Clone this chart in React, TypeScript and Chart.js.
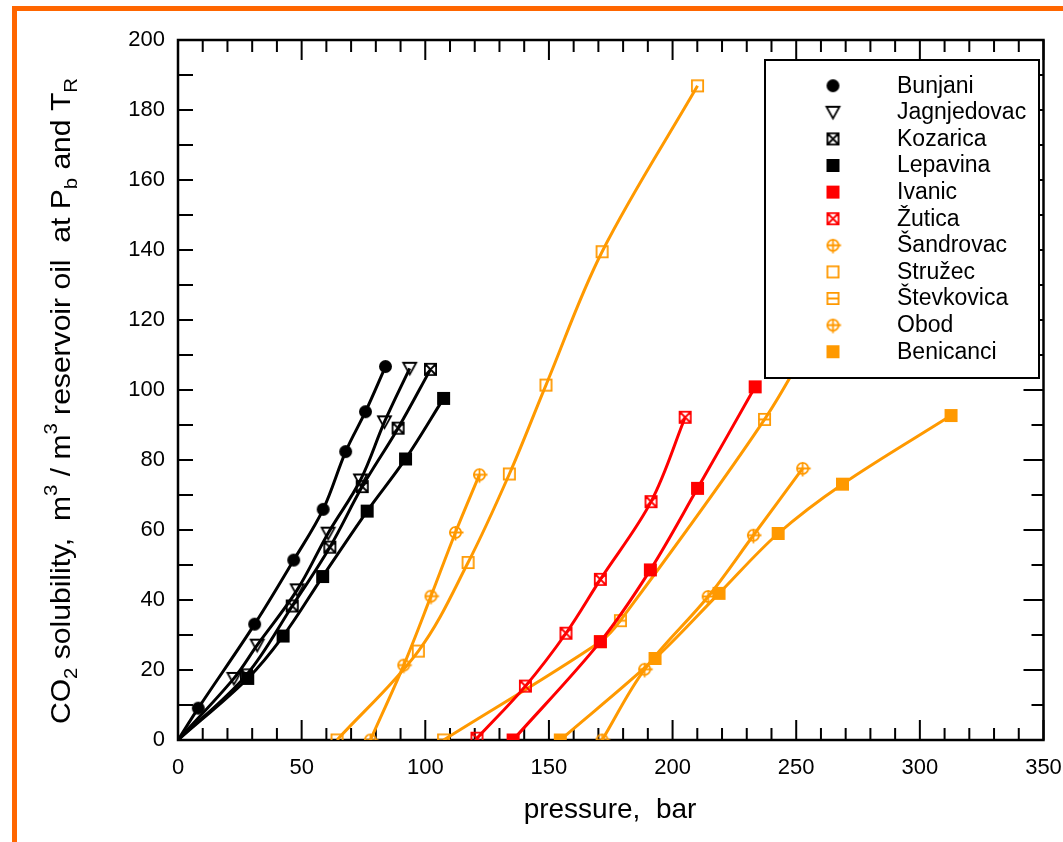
import React, { useEffect, useRef } from 'react';
import { Chart, registerables } from 'chart.js';

Chart.register(...registerables);

const FONT = "'Liberation Sans', Arial, Helvetica, sans-serif";
const BLACK = '#000000';
const RED = '#FF0000';
const ORANGE = '#FF9900';

// ---- data (pressure in bar, CO2 solubility in m3/m3) ----
const seriesNames = ['Bunjani', 'Jagnjedovac', 'Kozarica', 'Lepavina', 'Ivanic', 'Žutica', 'Šandrovac', 'Stružec', 'Števkovica', 'Obod', 'Benicanci'];

const bunjaniX = [0, 8.2, 31.0, 46.8, 58.7, 67.8, 75.8, 83.9];
const bunjaniY = [0, 9.1, 33.1, 51.4, 65.9, 82.4, 93.8, 106.7];
const jagnjedovacX = [0, 22.6, 32.0, 48.2, 60.7, 73.8, 83.5, 93.7];
const jagnjedovacY = [0, 17.6, 27.1, 42.9, 59.1, 74.3, 90.9, 106.2];
const kozaricaX = [0, 27.7, 46.2, 61.4, 74.5, 89.0, 102.1];
const kozaricaY = [0, 18.6, 38.3, 55.1, 72.4, 89.1, 105.9];
const lepavinaX = [0, 28.2, 42.5, 58.5, 76.5, 92.0, 107.4];
const lepavinaY = [0, 17.6, 29.7, 46.7, 65.4, 80.3, 97.6];
const ivanicX = [135.5, 170.8, 191.0, 210.1, 233.4];
const ivanicY = [0, 28.1, 48.6, 71.9, 100.9];
const zuticaX = [120.9, 140.5, 156.9, 170.8, 191.3, 205.1];
const zuticaY = [0.5, 15.4, 30.5, 45.9, 68.1, 92.2];
const sandrovacX = [77.8, 91.3, 102.3, 112.2, 121.9];
const sandrovacY = [0, 21.4, 41.1, 59.3, 75.8];
const struzecX = [64.3, 97.2, 117.3, 134.0, 148.8, 171.5, 210.1];
const struzecY = [0, 25.4, 50.7, 76.0, 101.4, 139.5, 186.9];
const stevkovicaX = [107.4, 170.8, 178.9, 237.2, 262.0];
const stevkovicaY = [0, 28.1, 34.1, 91.6, 122.0];
const obodX = [171.5, 188.7, 214.4, 232.7, 252.6];
const obodY = [0, 20.2, 41.0, 58.5, 77.6];
const benicanciX = [154.6, 192.9, 218.8, 242.7, 268.7, 312.6];
const benicanciY = [0, 23.3, 41.9, 59.0, 73.1, 92.7];

const xTickValues = [0, 50, 100, 150, 200, 250, 300, 350];
const yTickValues = [0, 20, 40, 60, 80, 100, 120, 140, 160, 180, 200];

// ---- marker images ----
type MarkerKind = 'circleFilled' | 'triDown' | 'boxX' | 'squareFilled' | 'circlePlus' | 'squareOpen' | 'squareHLine';

function makeMarker(kind: MarkerKind, color: string): HTMLCanvasElement {
  const size = 13;
  const pad = 4;
  const S = size + pad * 2;
  const c = document.createElement('canvas');
  c.width = S;
  c.height = S;
  const ctx = c.getContext('2d') as CanvasRenderingContext2D;
  const cx = S / 2;
  const cy = S / 2;
  const h = size / 2;
  ctx.strokeStyle = color;
  ctx.fillStyle = color;
  ctx.lineWidth = 1.8;
  ctx.beginPath();
  switch (kind) {
    case 'circleFilled':
      ctx.arc(cx, cy, h, 0, Math.PI * 2);
      ctx.fill();
      break;
    case 'triDown':
      ctx.moveTo(cx - h, cy - h * 0.85);
      ctx.lineTo(cx + h, cy - h * 0.85);
      ctx.lineTo(cx, cy + h * 0.95);
      ctx.closePath();
      ctx.stroke();
      break;
    case 'boxX':
      ctx.rect(cx - h + 0.9, cy - h + 0.9, size - 1.8, size - 1.8);
      ctx.moveTo(cx - h + 1, cy - h + 1);
      ctx.lineTo(cx + h - 1, cy + h - 1);
      ctx.moveTo(cx + h - 1, cy - h + 1);
      ctx.lineTo(cx - h + 1, cy + h - 1);
      ctx.stroke();
      break;
    case 'squareFilled':
      ctx.fillRect(cx - h, cy - h, size, size);
      break;
    case 'circlePlus':
      ctx.arc(cx, cy, h - 0.9, 0, Math.PI * 2);
      ctx.moveTo(cx - h, cy);
      ctx.lineTo(cx + h + 1.5, cy);
      ctx.moveTo(cx, cy - h);
      ctx.lineTo(cx, cy + h + 1.5);
      ctx.stroke();
      break;
    case 'squareOpen':
      ctx.rect(cx - h + 0.9, cy - h + 0.9, size - 1.8, size - 1.8);
      ctx.stroke();
      break;
    case 'squareHLine':
      ctx.rect(cx - h + 0.9, cy - h + 0.9, size - 1.8, size - 1.8);
      ctx.moveTo(cx - h + 1, cy);
      ctx.lineTo(cx + h - 1, cy);
      ctx.stroke();
      break;
  }
  return c;
}

// ---- plugins ----
const framePlugin = {
  id: 'frameTicks',
  beforeDatasetsDraw(chart: any) {
    const { ctx, chartArea } = chart;
    const { left, right, top, bottom } = chartArea;
    const xs = chart.scales.x;
    const ys = chart.scales.y;
    ctx.save();
    ctx.strokeStyle = BLACK;
    ctx.lineWidth = 2;
    ctx.beginPath();
    for (let v = 0; v <= 350; v += 10) {
      const px = xs.getPixelForValue(v);
      const len = v % 50 === 0 ? 20 : 12;
      ctx.moveTo(px, bottom);
      ctx.lineTo(px, bottom - len);
      ctx.moveTo(px, top);
      ctx.lineTo(px, top + len);
    }
    for (let v = 0; v <= 200; v += 10) {
      const py = ys.getPixelForValue(v);
      ctx.moveTo(left, py);
      ctx.lineTo(left + 15, py);
      const len = v % 20 === 0 ? 20 : 12;
      ctx.moveTo(right, py);
      ctx.lineTo(right - len, py);
    }
    ctx.stroke();
    ctx.lineWidth = 2.5;
    ctx.strokeRect(left, top, right - left, bottom - top);
    ctx.restore();
  },
};

const titlesPlugin = {
  id: 'titles',
  afterDraw(chart: any) {
    const { ctx, chartArea } = chart;
    ctx.save();
    ctx.fillStyle = BLACK;
    // x title
    ctx.font = `28px ${FONT}`;
    ctx.textAlign = 'center';
    ctx.textBaseline = 'alphabetic';
    ctx.fillText('pressure,  bar', 610, 818);

    // y title with sub/superscripts
    const segs: { t: string; k: 'n' | 'sub' | 'sup' }[] = [
      { t: 'CO', k: 'n' },
      { t: '2', k: 'sub' },
      { t: ' solubility,  m', k: 'n' },
      { t: '3', k: 'sup' },
      { t: ' / m', k: 'n' },
      { t: '3', k: 'sup' },
      { t: ' reservoir oil  at P', k: 'n' },
      { t: 'b', k: 'sub' },
      { t: ' and T', k: 'n' },
      { t: 'R', k: 'sub' },
    ];
    const mainF = `28px ${FONT}`;
    const smallF = `19px ${FONT}`;
    let total = 0;
    const widths = segs.map((s) => {
      ctx.font = s.k === 'n' ? mainF : smallF;
      const w = ctx.measureText(s.t).width;
      total += w;
      return w;
    });
    const startY = 724;
    const endY = 78;
    const k = (startY - endY) / total;
    ctx.translate(70, startY);
    ctx.rotate(-Math.PI / 2);
    ctx.scale(k, 1);
    ctx.textAlign = 'left';
    let pos = 0;
    segs.forEach((s, i) => {
      ctx.font = s.k === 'n' ? mainF : smallF;
      const dy = s.k === 'sub' ? 7 : s.k === 'sup' ? -13 : 0;
      ctx.fillText(s.t, pos, dy);
      pos += widths[i];
    });
    ctx.restore();
  },
};

function makeLegendPlugin(markers: HTMLCanvasElement[]) {
  return {
    id: 'boxLegend',
    afterDatasetsDraw(chart: any) {
      const { ctx } = chart;
      const bx = 765;
      const by = 60;
      const bw = 274;
      const bh = 318;
      ctx.save();
      ctx.fillStyle = '#ffffff';
      ctx.fillRect(bx, by, bw, bh);
      ctx.strokeStyle = BLACK;
      ctx.lineWidth = 2;
      ctx.strokeRect(bx, by, bw, bh);
      ctx.font = `23px ${FONT}`;
      ctx.fillStyle = BLACK;
      ctx.textAlign = 'left';
      ctx.textBaseline = 'middle';
      seriesNames.forEach((name, i) => {
        const ry = 85.7 + i * 26.6;
        const m = markers[i];
        ctx.drawImage(m, 833 - m.width / 2, ry - m.height / 2);
        ctx.fillText(name, 897, ry + 0.5);
      });
      ctx.restore();
    },
  };
}

export default function App() {
  const ref = useRef<HTMLCanvasElement>(null);

  useEffect(() => {
    if (!ref.current) return;
    const markers = [
      makeMarker('circleFilled', BLACK),
      makeMarker('triDown', BLACK),
      makeMarker('boxX', BLACK),
      makeMarker('squareFilled', BLACK),
      makeMarker('squareFilled', RED),
      makeMarker('boxX', RED),
      makeMarker('circlePlus', ORANGE),
      makeMarker('squareOpen', ORANGE),
      makeMarker('squareHLine', ORANGE),
      makeMarker('circlePlus', ORANGE),
      makeMarker('squareFilled', ORANGE),
    ];
    const xsList = [bunjaniX, jagnjedovacX, kozaricaX, lepavinaX, ivanicX, zuticaX, sandrovacX, struzecX, stevkovicaX, obodX, benicanciX];
    const ysList = [bunjaniY, jagnjedovacY, kozaricaY, lepavinaY, ivanicY, zuticaY, sandrovacY, struzecY, stevkovicaY, obodY, benicanciY];
    const colors = [BLACK, BLACK, BLACK, BLACK, RED, RED, ORANGE, ORANGE, ORANGE, ORANGE, ORANGE];
    const hideFirst = [true, true, true, true, false, false, false, false, false, false, false];

    const datasets = seriesNames.map((name, i) => ({
      label: name,
      data: xsList[i].map((x, j) => ({ x, y: ysList[i][j] })),
      borderColor: colors[i],
      backgroundColor: colors[i],
      borderWidth: 3,
      pointStyle: markers[i],
      pointRadius: xsList[i].map((_, j) => (hideFirst[i] && j === 0 ? 0 : 6)),
      pointHoverRadius: 6,
      tension: 0.35,
      fill: false,
      clip: 0,
    }));

    const chart = new Chart(ref.current, {
      type: 'line',
      data: { datasets },
      options: {
        responsive: false,
        animation: false,
        devicePixelRatio: 1,
        events: [],
        layout: { padding: { left: 0, right: 19.5, top: 40, bottom: 0 } },
        plugins: {
          legend: { display: false },
          tooltip: { enabled: false },
        },
        scales: {
          x: {
            type: 'linear',
            min: 0,
            max: 350,
            afterFit: (s: any) => {
              s.height = 102;
            },
            afterBuildTicks: (s: any) => {
              s.ticks = xTickValues.map((v) => ({ value: v }));
            },
            grid: { display: false, drawTicks: true, tickLength: 15 },
            border: { display: false },
            ticks: {
              padding: 0,
              maxRotation: 0,
              autoSkip: false,
              color: BLACK,
              font: { family: FONT, size: 22 },
            },
          },
          y: {
            type: 'linear',
            min: 0,
            max: 200,
            afterFit: (s: any) => {
              s.width = 178;
            },
            afterBuildTicks: (s: any) => {
              s.ticks = yTickValues.map((v) => ({ value: v }));
            },
            grid: { display: false, drawTicks: false },
            border: { display: false },
            ticks: {
              padding: 13,
              autoSkip: false,
              color: BLACK,
              font: { family: FONT, size: 22 },
            },
          },
        },
      },
      plugins: [framePlugin, makeLegendPlugin(markers), titlesPlugin],
    } as any);
    return () => chart.destroy();
  }, []);

  return (
    <div style={{ position: 'fixed', left: 0, top: 0, width: 1063, height: 842, background: '#ffffff', overflow: 'hidden' }}>
      <div
        style={{
          position: 'absolute',
          left: 12,
          top: 6,
          width: 1200,
          height: 1000,
          borderTop: '5px solid #FF6600',
          borderLeft: '5px solid #FF6600',
        }}
      />
      <canvas ref={ref} width={1063} height={842} style={{ position: 'absolute', left: 0, top: 0, width: 1063, height: 842 }} />
    </div>
  );
}
